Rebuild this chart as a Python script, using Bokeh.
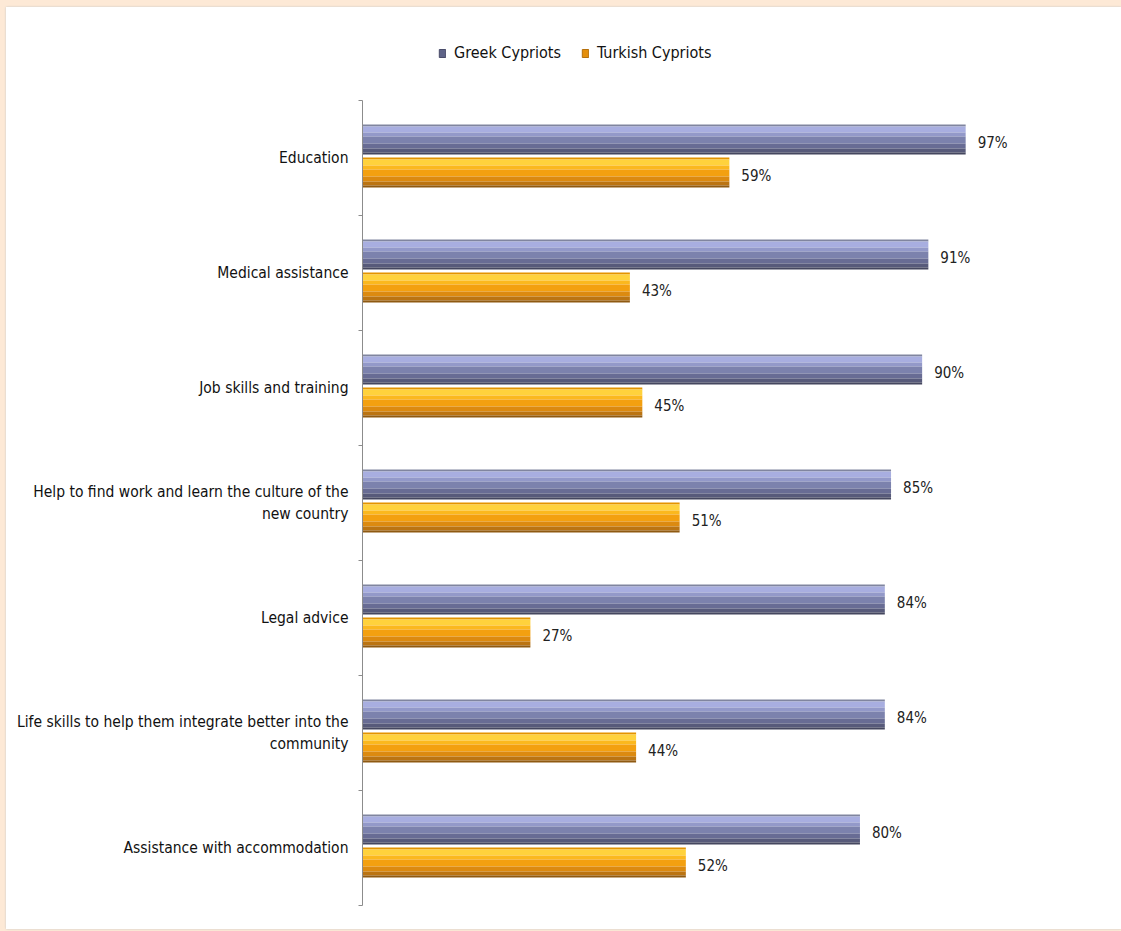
from bokeh.plotting import figure
from bokeh.layouts import column
from bokeh.models import (ColumnDataSource, Legend, LegendItem, GlobalInlineStyleSheet,
                          Range1d, LinearAxis, FixedTicker)
from bokeh.transform import dodge
from bokeh.core.properties import value
from bokeh.embed import file_html
from bokeh.resources import INLINE

# ---- data ----
categories = [
    "Education",
    "Medical assistance",
    "Job skills and training",
    "Help to find work and learn the culture of the\nnew country",
    "Legal advice",
    "Life skills to help them integrate better into the\ncommunity",
    "Assistance with accommodation",
]
greek = [97, 91, 90, 85, 84, 84, 80]
turkish = [59, 43, 45, 51, 27, 44, 52]
series_names = ["Greek Cypriots", "Turkish Cypriots"]

FONT = "'DejaVu Sans Condensed', 'Liberation Sans Narrow', sans-serif"
W = 1115
N = len(categories)
ypos = [N - 0.5 - i for i in range(N)]          # category slots, first category on top

src = ColumnDataSource(dict(
    cat=categories,
    ypos=ypos,
    greek=greek,
    turkish=turkish,
    greek_lbl=[f"{v}%" for v in greek],
    turkish_lbl=[f"{v}%" for v in turkish],
))

# ---------- legend strip ----------
pl = figure(width=W, height=93, x_range=(0, 1), y_range=(0, 1),
            output_backend="svg", toolbar_location=None,
            min_border_left=0, min_border_right=0, min_border_top=0, min_border_bottom=0)
pl.axis.visible = False
pl.grid.visible = False
pl.outline_line_color = None
pl.background_fill_color = "white"
pl.border_fill_color = "white"
# legend-only renderers, kept outside the visible range
lg_g = pl.hbar(y=[-5], left=[-5], right=[-4], height=0.1, fill_color="#5f6488", line_color="#4a4d6a")
lg_t = pl.hbar(y=[-5], left=[-5], right=[-4], height=0.1, fill_color="#e48f0c", line_color="#b5700c")
legend = Legend(items=[LegendItem(label=series_names[0], renderers=[lg_g]),
                       LegendItem(label=series_names[1], renderers=[lg_t])],
                orientation="horizontal", location=(76, 38),
                glyph_width=8, glyph_height=10, label_standoff=8, spacing=20,
                padding=0, margin=0, border_line_color=None, background_fill_alpha=0,
                label_text_font=FONT, label_text_font_size="16px", label_text_color="#111111")
pl.add_layout(legend, "center")

# ---------- main chart ----------
p = figure(
    width=W, height=829,
    y_range=Range1d(0, N), x_range=(0, 110), y_axis_location=None,
    output_backend="svg", toolbar_location=None,
    min_border_left=356, min_border_right=75, min_border_top=0, min_border_bottom=24,
)
p.background_fill_color = "white"
p.border_fill_color = "white"
p.outline_line_color = None
p.grid.visible = False
p.xaxis.visible = False

# category labels at slot centres, small tick marks on slot boundaries
cat_axis = LinearAxis(ticker=FixedTicker(ticks=ypos, minor_ticks=list(range(N + 1))),
                      major_label_overrides={y: c for y, c in zip(ypos, categories)},
                      axis_line_color="#8c8c8c", major_tick_line_color=None,
                      minor_tick_line_color="#8c8c8c", minor_tick_in=0, minor_tick_out=4,
                      major_tick_in=0, major_tick_out=0,
                      major_label_text_font=FONT, major_label_text_font_size="15.5px",
                      major_label_text_color="#111111", major_label_standoff=10)
p.add_layout(cat_axis, "left")

U = 1 / 115.0  # one pixel in slot units (approx.)
G_C, T_C, H = 0.16, -0.125, 30 * U

# bands: (top px, bottom px, colour) measured from the top of a 30px bar
g_bands = [(0, 2, "#80859f"), (2, 8, "#a8aee0"), (8, 12, "#9399c9"),
           (12, 19, "#7c82ad"), (19, 24, "#686c94"), (24, 28, "#575a7a"), (28, 30, "#45475f")]
t_bands = [(0, 2, "#e49400"), (2, 8, "#ffd23c"), (8, 12, "#fbb81e"),
           (12, 19, "#f3a010"), (19, 24, "#dc8a10"), (24, 28, "#bb7412"), (28, 30, "#8f5a12")]

def draw(col, center, bands):
    for top, bot, color in bands:
        off = center + H / 2 - (top + bot) / 2 * U
        p.hbar(y=dodge("ypos", off), right=col, left=0,
               height=(bot - top) * U, source=src, fill_color=color, line_color=None)

draw("greek", G_C, g_bands)
draw("turkish", T_C, t_bands)

# value labels
p.text(x="greek", y=dodge("ypos", G_C), text="greek_lbl", source=src,
       x_offset=12, y_offset=3, text_baseline="middle", text_align="left",
       text_font=value(FONT), text_font_size="15px", text_color="#222222")
p.text(x="turkish", y=dodge("ypos", T_C), text="turkish_lbl", source=src,
       x_offset=12, y_offset=4, text_baseline="middle", text_align="left",
       text_font=value(FONT), text_font_size="15px", text_color="#222222")

layout = column(pl, p, spacing=0)
layout.styles = {"margin-left": "6px", "margin-top": "7px",
                 "box-shadow": "0 0 2px #c8c8c8", "background-color": "white"}
layout.stylesheets = [GlobalInlineStyleSheet(css="html, body { background-color: #fde9d6; }")]

open("out.html", "w").write(file_html(layout, INLINE))
